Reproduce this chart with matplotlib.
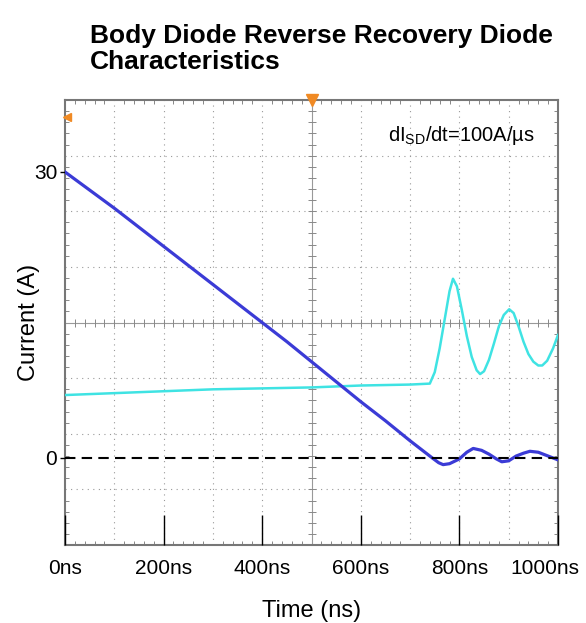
import numpy as np
import matplotlib
matplotlib.use("Agg")
import matplotlib.pyplot as plt
from matplotlib.transforms import ScaledTranslation

plt.rcParams['font.family'] = ['Liberation Sans', 'DejaVu Sans']
plt.rcParams['mathtext.fontset'] = 'custom'
plt.rcParams['mathtext.rm'] = 'Liberation Sans'
plt.rcParams['mathtext.it'] = 'Liberation Sans:italic'

# diode current trace (blue)
t_blue = [0, 50, 100, 150, 200, 250, 300, 350, 400, 450, 500, 550, 600, 650, 700,
          730, 745, 758, 767, 780, 800, 815, 828, 845, 860, 875, 886, 900, 915, 930,
          943, 960, 975, 990, 1000]
i_blue = [30, 28.1, 26.2, 24.2, 22.2, 20.2, 18.2, 16.2, 14.2, 12.2, 10.1, 8.0, 5.9, 3.9, 1.8,
          0.6, 0.0, -0.5, -0.7, -0.6, -0.1, 0.6, 1.0, 0.8, 0.4, -0.1, -0.4, -0.3, 0.2, 0.5,
          0.7, 0.6, 0.3, 0.0, -0.2]

# second channel trace (cyan)
t_cyan = [0, 100, 200, 300, 400, 500, 600, 700, 740, 750, 760, 770, 780, 787, 795,
          805, 815, 825, 835, 842, 850, 860, 870, 880, 890, 901, 910, 920, 930, 940,
          950, 960, 968, 978, 990, 1000]
i_cyan = [6.6, 6.8, 7.0, 7.2, 7.3, 7.4, 7.6, 7.7, 7.8, 9.0, 11.5, 14.5, 17.5, 18.8, 18.0,
          15.5, 12.8, 10.6, 9.2, 8.8, 9.1, 10.3, 12.0, 13.8, 15.0, 15.6, 15.2, 13.8, 12.2, 10.9,
          10.1, 9.7, 9.7, 10.2, 11.5, 12.9]

x_ticks = [0, 200, 400, 600, 800, 1000]
x_labels = ['0ns', '200ns', '400ns', '600ns', '800ns', '1000ns']
y_ticks = [0, 30]

fig = plt.figure(figsize=(5.86, 6.23), dpi=100)
pos = [65 / 586, 1 - 545 / 623, 493 / 586, 445 / 623]

# scope graticule
g = fig.add_axes(pos)
g.set_xlim(0, 10)
g.set_ylim(0, 8)
g.set_xticks(np.arange(0, 11, 1))
g.set_yticks(np.arange(0, 9, 1))
g.set_xticks(np.arange(0, 10.01, 0.2), minor=True)
g.set_yticks(np.arange(0, 8.01, 0.2), minor=True)
g.tick_params(which='both', direction='in', top=True, right=True,
              labelbottom=False, labelleft=False, color='#888888')
g.tick_params(which='major', length=0)
g.tick_params(which='minor', length=3, width=0.7)
for s in g.spines.values():
    s.set_color('#777777')
    s.set_linewidth(1.5)
for k in range(1, 10):
    if k != 5:
        g.axvline(k, color='#999999', lw=0.8, ls=(0, (1, 4)))
for k in range(1, 8):
    if k != 4:
        g.axhline(k, color='#999999', lw=0.8, ls=(0, (1, 4)))
g.axvline(5, color='#999999', lw=0.8)
g.axhline(4, color='#999999', lw=0.8)
mt = np.arange(0.2, 10, 0.2)
g.plot(mt, np.full_like(mt, 4), ls='none', marker='|', ms=6, color='#888888', mew=0.7)
mt = np.arange(0.2, 8, 0.2)
g.plot(np.full_like(mt, 5), mt, ls='none', marker='_', ms=6, color='#888888', mew=0.7)

# data axes on top
ax = fig.add_axes(pos, facecolor='none')
ax.set_xlim(0, 1000)
ax.set_ylim(-9.13, 37.55)
for s in ax.spines.values():
    s.set_visible(False)
ax.plot(t_cyan, i_cyan, color='#3fe3e3', lw=1.8)
ax.plot(t_blue, i_blue, color='#3b3bd6', lw=2.3)
ax.axhline(0, color='black', lw=1.5, ls=(0, (5, 3)))
ax.plot([500], [37.55], marker='v', ms=8, color='#f08a24', clip_on=False)
ax.plot([5], [35.8], marker='<', ms=6, color='#f08a24', clip_on=False)

ax.set_xticks(x_ticks)
ax.set_xticklabels(x_labels)
ax.set_yticks(y_ticks)
ax.tick_params(axis='x', direction='in', length=21.5, width=1, color='black',
               labelsize=15, pad=10)
ax.tick_params(axis='y', direction='out', length=3.5, width=1, color='black',
               labelsize=15, pad=2)
last = ax.get_xticklabels()[-1]
last.set_transform(last.get_transform() + ScaledTranslation(-13 / 100, 0, fig.dpi_scale_trans))
ax.set_xlabel('Time (ns)', fontsize=17, labelpad=16)
ax.set_ylabel('Current (A)', fontsize=17, labelpad=-4)

ax.text(0.655, 0.921, 'dI$_\\mathregular{SD}$/dt=100A/\u00b5s', transform=ax.transAxes,
        fontsize=14.5, va='center', ha='left')

fig.text(90 / 586, 1 - 36 / 623, 'Body Diode Reverse Recovery Diode',
         fontsize=19, fontweight='bold', va='center', ha='left')
fig.text(90 / 586, 1 - 62 / 623, 'Characteristics',
         fontsize=19, fontweight='bold', va='center', ha='left')

fig.savefig('out.png', dpi=100)
